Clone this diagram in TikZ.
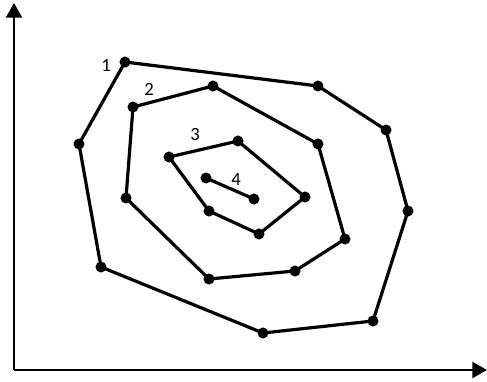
\documentclass[tikz,border=0pt]{standalone}
\usepackage{fontspec}
\setmainfont{Carlito}
\usetikzlibrary{arrows.meta}
\begin{document}
\begin{tikzpicture}[x=0.75pt,y=-0.75pt,
  axis/.style={line width=1.6pt,-{Triangle[length=11pt,width=12pt]}},
  poly/.style={line width=2.4pt,line join=round},
  dot/.style={circle,fill=black,inner sep=0pt,minimum size=8.3pt},
  lbl/.style={font=\fontsize{14pt}{16pt}\selectfont,inner sep=0pt}]
\useasboundingbox (0,0) rectangle (487,382);
% axes
\coordinate (o) at (14,370);
\coordinate (ytip) at (14,3);
\coordinate (xtip) at (487,370);
\draw[axis] (o) -- (ytip);
\draw[axis] (o) -- (xtip);
% polygon 1
\coordinate (a1) at (125,62);
\coordinate (a2) at (318,86);
\coordinate (a3) at (386,130);
\coordinate (a4) at (408,211);
\coordinate (a5) at (373,321);
\coordinate (a6) at (263,333);
\coordinate (a7) at (101,267);
\coordinate (a8) at (79,144);
% polygon 2
\coordinate (b1) at (133,107);
\coordinate (b2) at (213,86);
\coordinate (b3) at (318,144);
\coordinate (b4) at (345,239);
\coordinate (b5) at (295,271);
\coordinate (b6) at (209,279);
\coordinate (b7) at (126,198);
% polygon 3
\coordinate (c1) at (169,157);
\coordinate (c2) at (238,141);
\coordinate (c3) at (305,197);
\coordinate (c4) at (259,234);
\coordinate (c5) at (209,211);
% segment 4
\coordinate (d1) at (206,178);
\coordinate (d2) at (254,199);
\draw[poly] (a1) -- (a2) -- (a3) -- (a4) -- (a5) -- (a6) -- (a7) -- (a8) -- cycle;
\draw[poly] (b1) -- (b2) -- (b3) -- (b4) -- (b5) -- (b6) -- (b7) -- cycle;
\draw[poly] (c1) -- (c2) -- (c3) -- (c4) -- (c5) -- cycle;
\draw[poly] (d1) -- (d2);
\foreach \p in {a1,a2,a3,a4,a5,a6,a7,a8,b1,b2,b3,b4,b5,b6,b7,c1,c2,c3,c4,c5,d1,d2}
  \node[dot] (n\p) at (\p) {};
% labels
\node[lbl] (l1) at (106,65) {1};
\node[lbl] (l2) at (149,89) {2};
\node[lbl] (l3) at (195,135) {3};
\node[lbl] (l4) at (236,180) {4};
\end{tikzpicture}
\end{document}
